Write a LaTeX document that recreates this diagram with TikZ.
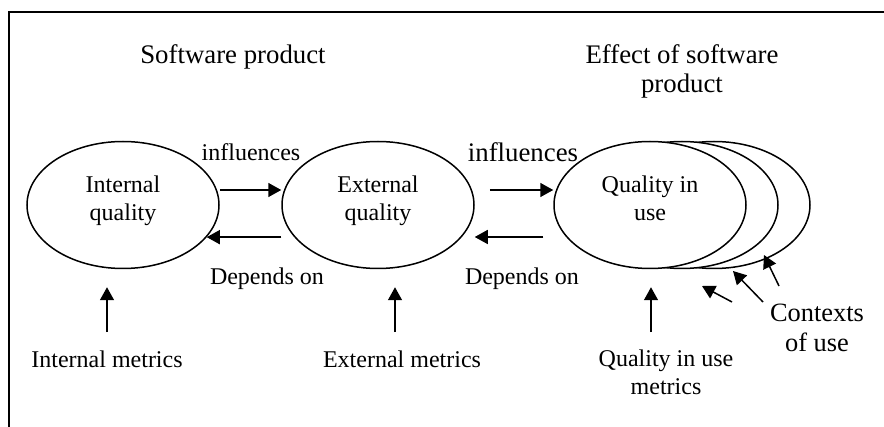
\documentclass[tikz,border=0pt]{standalone}
\usepackage{fontspec}
\setmainfont{Liberation Serif}
\usetikzlibrary{shapes.geometric,arrows.meta}

\tikzset{
  qual/.style={ellipse, draw, line width=0.75pt, fill=white, minimum width=96pt,
    minimum height=63.5pt, inner sep=0pt, align=center, text depth=7pt,
    font=\fontsize{12}{14}\selectfont},
  flow/.style={line width=0.75pt, -{Triangle[length=6.5pt,width=7pt]}},
  lbl/.style={inner sep=0pt, align=center, font=\fontsize{12}{14}\selectfont},
  big/.style={inner sep=0pt, align=center, font=\fontsize{13.4}{14.5}\selectfont}
}

\begin{document}
\begin{tikzpicture}[x=0.5pt,y=-0.5pt]
	\useasboundingbox (0,0) rectangle (884,427);
	\draw[line width=0.75pt] (9,427) -- (9,12) -- (884,12);

	\node[big] (sp) at (233,57) {Software product};
	\node[big] (ep) at (682,71) {Effect of software\\product};

	\node[qual] (iq) at (123,205) {Internal\\quality};
	\node[qual] (eq) at (378,205) {External\\quality};
	\node[qual] (ctxb) at (714,205) {};
	\node[qual] (ctxa) at (682,205) {};
	\node[qual] (qu) at (650,205) {Quality in\\use};

	\node[lbl] (inf1) at (251,152) {influences};
	\node[big] (inf2) at (523,152) {influences};
	\node[lbl] (dep1) at (267,279) {Depends on};
	\node[lbl] (dep2) at (522,279) {Depends on};

	\node[lbl] (im) at (107,359) {Internal metrics};
	\node[lbl] (em) at (402,359) {External metrics};
	\node[lbl] (qm) at (666,372) {Quality in use\\metrics};
	\node[big, font=\fontsize{13.2}{15}\selectfont] (cu) at (817,328) {Contexts\\of use};

	\draw[flow] ([yshift=7.5pt]iq.east) -- ([yshift=7.5pt]eq.west);
	\draw[flow] (eq.west |- iq.-21) -- (iq.-21);
	\draw[flow] ([xshift=7.5pt,yshift=7.5pt]eq.east) -- ([yshift=7.5pt]qu.west);
	\draw[flow] ([xshift=-5pt,yshift=-16pt]qu.west) -- ([yshift=-16pt]eq.east);

	\draw[flow] ([yshift=9pt]im.north) -- ([yshift=-9pt]im.north |- iq.south);
	\draw[flow] ([xshift=-3.5pt,yshift=9pt]em.north) -- ([xshift=-3.5pt,yshift=-9pt]em.north |- eq.south);
	\draw[flow] ([xshift=-7.5pt,yshift=8.5pt]qm.north) -- ([xshift=-7.5pt,yshift=-9pt]qm.north |- qu.south);

	% contexts of use
	\coordinate (c1) at (732,302);
	\coordinate (c2) at (763,302);
	\coordinate (c3) at (779,286);
	\coordinate (h1) at (702,286);
	\coordinate (h2) at (733,271);
	\coordinate (h3) at (764,255);
	\foreach \i in {1,2,3}
		\draw[flow] (c\i) -- (h\i);
\end{tikzpicture}
\end{document}
